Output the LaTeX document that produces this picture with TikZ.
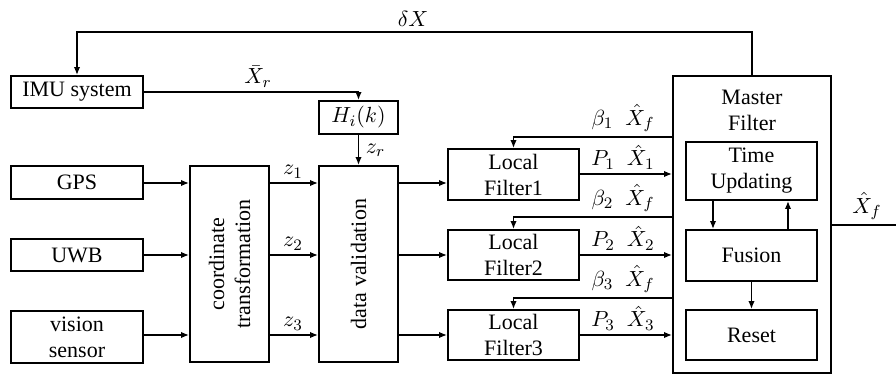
\documentclass[tikz,border=0pt]{standalone}
\usepackage{fontspec}
\setmainfont{Liberation Serif}
\usetikzlibrary{arrows.meta,calc}
\begin{document}
\begin{tikzpicture}[x=0.5pt,y=-0.5pt, line width=0.9pt,
 box/.style={draw, inner sep=0pt, align=center, font=\fontsize{11}{13}\selectfont},
 lbl/.style={inner sep=0pt, font=\fontsize{11}{13}\selectfont},
 arr/.style={-{Latex[length=4pt,width=3.2pt]}}]
\useasboundingbox (0,0) rectangle (896,375);
% boxes
\node[box, minimum width=66pt, minimum height=16pt] (imu) at (77,92) {IMU system};
\node[box, minimum width=39.5pt, minimum height=16.5pt] (h) at (358.5,117.5) {$H_i(k)$};
\node[box, minimum width=66pt, minimum height=16.5pt] (gps) at (77,182.5) {GPS};
\node[box, minimum width=66pt, minimum height=16pt] (uwb) at (77,255) {UWB};
\node[box, minimum width=66pt, minimum height=26pt] (vis) at (77,337) {vision\\sensor};
\node[box, minimum width=39.5pt, minimum height=98pt] (ct) at (229.5,264) {};
\node[lbl, rotate=90, align=center] (ctt) at (ct.center) {coordinate\\transformation};
\node[box, minimum width=39.5pt, minimum height=98pt] (dv) at (358.5,264) {};
\node[lbl, rotate=90] (dvt) at (dv.center) {data validation};
\node[box, minimum width=65.5pt, minimum height=25.5pt] (lf1) at (513.5,174.5) {Local\\Filter1};
\node[box, minimum width=65.5pt, minimum height=25pt] (lf2) at (513.5,255) {Local\\Filter2};
\node[box, minimum width=65.5pt, minimum height=25pt] (lf3) at (513.5,335) {Local\\Filter3};
\node[box, minimum width=79pt, minimum height=148.5pt] (mf) at (752,224.5) {};
\node[lbl, align=center] (mft) at (752,110) {Master\\Filter};
\node[box, minimum width=65.5pt, minimum height=29pt] (tu) at (751.5,171) {Time\\Updating};
\node[box, minimum width=65.5pt, minimum height=25.5pt] (fu) at (751.5,255.5) {Fusion};
\node[box, minimum width=65.5pt, minimum height=25pt] (rs) at (751.5,335) {Reset};
% coordinates
\coordinate (y1) at (0,183);
\coordinate (y2) at (0,255);
\coordinate (y3) at (0,335);
\coordinate (p1) at (0,174);
\coordinate (b1) at (0,137);
\coordinate (b2) at (0,217);
\coordinate (b3) at (0,298);
\coordinate (top) at (0,32);
\coordinate (xa) at (713,0);
\coordinate (xb) at (788,0);
\coordinate (out) at (896,225);
% inputs
\draw[arr] (gps.east |- y1) -- (ct.west |- y1);
\draw[arr] (uwb.east |- y2) -- (ct.west |- y2);
\draw[arr] (vis.east |- y3) -- (ct.west |- y3);
\draw[arr] (ct.east |- y1) -- (dv.west |- y1);
\draw[arr] (ct.east |- y2) -- (dv.west |- y2);
\draw[arr] (ct.east |- y3) -- (dv.west |- y3);
\draw[arr] (dv.east |- y1) -- (lf1.west |- y1);
\draw[arr] (dv.east |- y2) -- (lf2.west |- y2);
\draw[arr] (dv.east |- y3) -- (lf3.west |- y3);
% local to master
\draw[arr] (lf1.east |- p1) -- (mf.west |- p1);
\draw[arr] (lf2.east |- y2) -- (mf.west |- y2);
\draw[arr] (lf3.east |- y3) -- (mf.west |- y3);
% feedback
\draw[arr] (mf.west |- b1) -| (lf1.north);
\draw[arr] (mf.west |- b2) -| (lf2.north);
\draw[arr] (mf.west |- b3) -| (lf3.north);
\draw[arr] (mf.north) -- (mf.north |- top) -| (imu.north);
\draw[arr] (imu.east) -| (h.north);
\draw[arr] (h.south) -- (dv.north);
% internal
\draw[arr] (tu.south -| xa) -- (fu.north -| xa);
\draw[arr] (fu.north -| xb) -- (tu.south -| xb);
\draw[arr] (fu.south) -- (rs.north);
\draw (mf.east |- out) -- (out);
% labels
\node[lbl, anchor=south] (ldx) at (413,27) {$\delta X$};
\node[lbl, anchor=south] (lxr) at (258,88) {$\bar{X}_r$};
\node[lbl, anchor=west] (lzr) at (365,150) {$z_r$};
\node[lbl, anchor=south] (lz1) at (293,179) {$z_1$};
\node[lbl, anchor=south] (lz2) at (293,251) {$z_2$};
\node[lbl, anchor=south] (lz3) at (293,331) {$z_3$};
\node[lbl, anchor=south] (lb1) at (623,133) {$\beta_1\hspace{6pt}\hat{X}_f$};
\node[lbl, anchor=south] (lp1) at (623,170) {$P_1\hspace{6pt}\hat{X}_1$};
\node[lbl, anchor=south] (lb2) at (623,213) {$\beta_2\hspace{6pt}\hat{X}_f$};
\node[lbl, anchor=south] (lp2) at (623,251) {$P_2\hspace{6pt}\hat{X}_2$};
\node[lbl, anchor=south] (lb3) at (623,294) {$\beta_3\hspace{6pt}\hat{X}_f$};
\node[lbl, anchor=south] (lp3) at (623,331) {$P_3\hspace{6pt}\hat{X}_3$};
\node[lbl, anchor=south] (lout) at (867,221) {$\hat{X}_f$};
\end{tikzpicture}
\end{document}
